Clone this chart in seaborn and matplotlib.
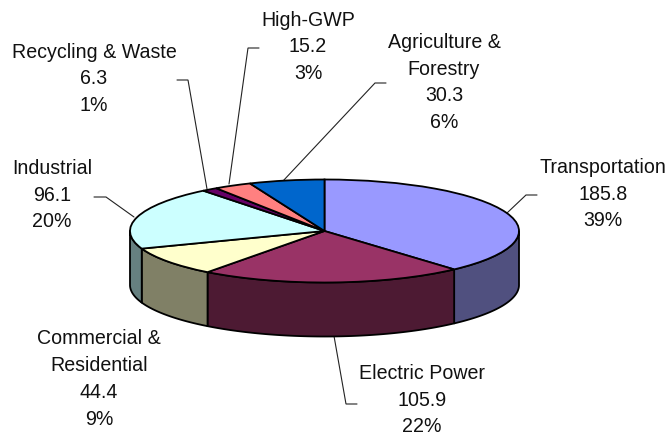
import numpy as np
import matplotlib
matplotlib.use("Agg")
import matplotlib.pyplot as plt
import seaborn as sns

# Emissions by sector, clockwise from twelve o'clock
sectors = ["Transportation", "Electric Power", "Commercial &\nResidential", "Industrial",
           "Recycling & Waste", "High-GWP", "Agriculture &\nForestry"]
values = [185.8, 105.9, 44.4, 96.1, 6.3, 15.2, 30.3]
percents = [39, 22, 9, 20, 1, 3, 6]

top_hex = ["#9999FF", "#993366", "#FFFFCC", "#CCFFFF", "#660066", "#FF8080", "#0066CC"]
wall_hex = ["#50507F", "#4D1A33", "#808066", "#668080", "#330033", "#804040", "#003366"]

WIDTH, HEIGHT = 669, 436
CX, CY, RX, RY, DEPTH = 324.5, 231, 194.5, 51.5, 54

sns.set_theme(style="white")
plt.rcParams["font.family"] = ["Liberation Sans", "DejaVu Sans"]
top_colors = sns.color_palette(top_hex)
wall_colors = sns.color_palette(wall_hex)

fig = plt.figure(figsize=(WIDTH / 100, HEIGHT / 100), dpi=100, facecolor="white")
ax = fig.add_axes([0, 0, 1, 1])


def to_data(px, py):
    """Convert image pixel positions to the unit-circle data space of the pie."""
    return (np.asarray(px, float) - CX) / RX, (CY - np.asarray(py, float)) / RY


# Top face
ax.pie(values, startangle=90, counterclock=False, colors=top_colors, radius=1, center=(0, 0),
       frame=True, wedgeprops=dict(edgecolor="black", linewidth=1.3, zorder=3))

# Outer wall: only the part of each slice that faces the viewer (lower half of the ellipse)
fractions = np.cumsum([0] + values) / np.sum(values)
angles = 90 - 360 * fractions
drop = DEPTH / RY
for a_start, a_end, color in zip(angles[:-1], angles[1:], wall_colors):
    hi, lo = min(a_start, 0), max(a_end, -180)
    if hi <= lo:
        continue
    t = np.radians(np.linspace(hi, lo, 80))
    xs, ys = np.cos(t), np.sin(t)
    ax.fill(np.r_[xs, xs[::-1]], np.r_[ys, ys[::-1] - drop],
            facecolor=color, edgecolor="black", linewidth=1.3, zorder=2, joinstyle="round")

# Leader lines from labels to slices
leaders = [
    ([537, 526, 507], [195, 195, 213]),
    ([357, 346, 334], [404, 404, 336]),
    ([94, 106, 134], [197, 197, 217]),
    ([177, 188, 207], [80, 80, 189]),
    ([259, 248, 229], [48, 48, 184]),
    ([386, 375, 283], [83, 83, 181]),
]
for px, py in leaders:
    lx, ly = to_data(px, py)
    ax.plot(lx, ly, color="#222222", linewidth=0.8, zorder=1, solid_joinstyle="miter")

# Labels: sector name, value and share stacked and centred
label_centres = [(603, 194), (422, 400), (99, 379), (52, 195), (94, 79), (308, 47), (444, 82.5)]
for name, value, pct, (px, py) in zip(sectors, values, percents, label_centres):
    lx, ly = to_data(px, py)
    ax.text(lx, ly, f"{name}\n{value}\n{pct}%", ha="center", va="center", fontsize=14.1,
            linespacing=1.52, color="#111111", zorder=5)

ax.set_aspect("auto")
ax.set_xlim(*to_data([0, WIDTH], [0, 0])[0])
ax.set_ylim(to_data([0, 0], [HEIGHT, 0])[1])
ax.set_axis_off()

fig.savefig("out.png", dpi=100, facecolor="white")
